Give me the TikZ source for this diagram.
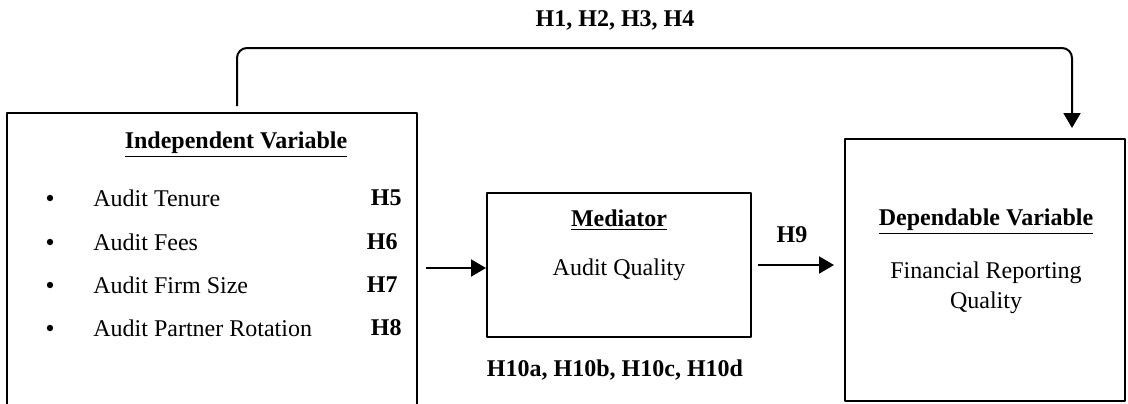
\documentclass[tikz,border=0pt]{standalone}
\usepackage{fontspec}
\setmainfont{Liberation Serif}
\usetikzlibrary{arrows.meta}
\tikzset{
  box/.style={draw, line width=1pt, inner sep=0pt},
  txt/.style={font=\fontsize{12}{15}\selectfont, inner sep=0pt},
  hyp/.style={font=\fontsize{12}{15}\selectfont\bfseries, inner sep=0pt},
  dot/.style={circle, fill, inner sep=0pt, minimum size=3.2pt},
  arr/.style={-{Triangle[width=8.5pt,length=7.5pt]}, line width=1pt},
}
\begin{document}
\begin{tikzpicture}[x=0.5pt,y=-0.5pt, line join=round]
		\clip (0,0) rectangle (1128,403);
		% boxes
		\node[box, minimum width=205pt, minimum height=151pt] (indep) at (212,264) {};
		\node[box, minimum width=132pt, minimum height=72pt] (medi) at (619,265) {};
		\node[box, minimum width=140pt, minimum height=131pt] (dep) at (985,270) {};
		% independent variable
		\node[hyp] (indtitle) at (236,145) {\underline{Independent Variable}};
		\node[dot] (b1) at (50,198) {};
		\node[dot] (b2) at (50,242) {};
		\node[dot] (b3) at (50,285) {};
		\node[dot] (b4) at (50,328) {};
		\node[txt, anchor=west] (tenure) at (93,198) {Audit Tenure};
		\node[txt, anchor=west] (fees) at (93,242) {Audit Fees};
		\node[txt, anchor=west] (size) at (93,285) {Audit Firm Size};
		\node[txt, anchor=west] (rotation) at (93,328) {Audit Partner Rotation};
		\node[hyp, anchor=east] (h5) at (402,198) {H5};
		\node[hyp, anchor=east] (h6) at (398,242) {H6};
		\node[hyp, anchor=east] (h7) at (398,285) {H7};
		\node[hyp, anchor=east] (h8) at (402,328) {H8};
		% mediator
		\node[hyp] (meditle) at (619,220) {\underline{Mediator}};
		\node[txt] (quality) at (619,270) {Audit Quality};
		\node[hyp] (h10) at (615,370) {H10a, H10b, H10c, H10d};
		% dependent variable
		\node[hyp] (deptitle) at (986,222) {\underline{Dependable Variable}};
		\node[txt, align=center] (frq) at (986,288) {Financial Reporting\\Quality};
		% hypotheses on connectors
		\node[hyp] (h9) at (792,235) {H9};
		\node[hyp] (h14) at (615,20) {H1, H2, H3, H4};
		\coordinate (bend) at (620,48);
		% connectors
		\draw[arr, shorten <=4pt] ([yshift=-1.5pt]indep.east |- medi.west) -- ([yshift=-1.5pt]medi.west);
		\draw[arr, shorten <=3pt, shorten >=5pt] (medi.east) -- (medi.east -| dep.west);
		\draw[arr, rounded corners=5pt, shorten <=3pt, shorten >=5pt] ([xshift=12.5pt]indep.north) |- (bend) -| ([xshift=43.5pt]dep.north);
\end{tikzpicture}
\end{document}
